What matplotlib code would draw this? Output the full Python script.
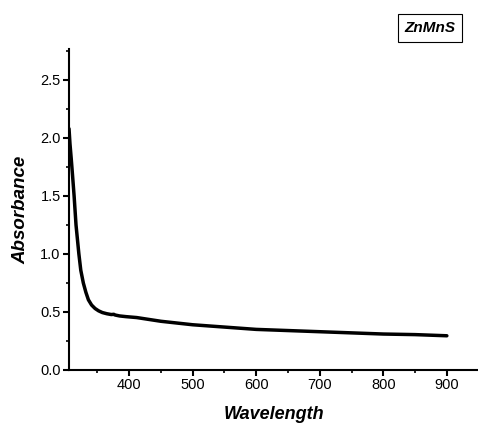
import numpy as np
import matplotlib.pyplot as plt
from matplotlib.ticker import MultipleLocator

plt.rcParams['font.family'] = ['Liberation Sans', 'DejaVu Sans']

# absorbance spectrum
wavelength = [305.5, 307, 309, 311, 313.5, 316.5, 321, 324, 328, 332, 336, 341, 346.5, 352,
              358, 365, 372, 376, 378, 385, 395, 412, 450, 500, 550, 600, 650, 700, 750,
              800, 850, 900]
absorbance = [2.08, 1.95, 1.82, 1.68, 1.5, 1.25, 1.0, 0.86, 0.75, 0.67, 0.605, 0.56, 0.53, 0.51,
              0.495, 0.485, 0.478, 0.48, 0.474, 0.466, 0.46, 0.452, 0.42, 0.39, 0.37, 0.35,
              0.34, 0.33, 0.32, 0.31, 0.305, 0.295]
sample = 'ZnMnS'

fig = plt.figure(figsize=(4.78, 4.23), dpi=100)
ax = fig.add_axes([0.1444, 0.1253, 0.8556, 0.7589])

ax.plot(wavelength, absorbance, c='black', linewidth=2.5, solid_capstyle='round',
        solid_joinstyle='round')

ax.set_xlim(305.5, 949)
ax.set_ylim(0, 2.767)
ax.xaxis.set_major_locator(MultipleLocator(100))
ax.xaxis.set_minor_locator(MultipleLocator(50))
ax.yaxis.set_major_locator(MultipleLocator(0.5))
ax.yaxis.set_minor_locator(MultipleLocator(0.25))

for s in ['top', 'right']:
    ax.spines[s].set_visible(False)
for s in ['left', 'bottom']:
    ax.spines[s].set_linewidth(1.5)

ax.tick_params(which='major', direction='out', length=4, width=1.5, labelsize=10.5, pad=2)
ax.tick_params(which='minor', direction='out', length=2.5, width=1.2)

ax.set_xlabel('Wavelength', fontsize=13, fontweight='bold', fontstyle='italic', labelpad=10)
ax.set_ylabel('Absorbance', fontsize=13.5, fontweight='bold', fontstyle='italic', labelpad=8)

fig.text(0.8996, 0.9338, sample, fontsize=11, fontweight='bold', fontstyle='italic',
         ha='center', va='center',
         bbox=dict(boxstyle='square,pad=0.45', facecolor='white', edgecolor='black', linewidth=0.8))

fig.savefig('out.png', dpi=100)
